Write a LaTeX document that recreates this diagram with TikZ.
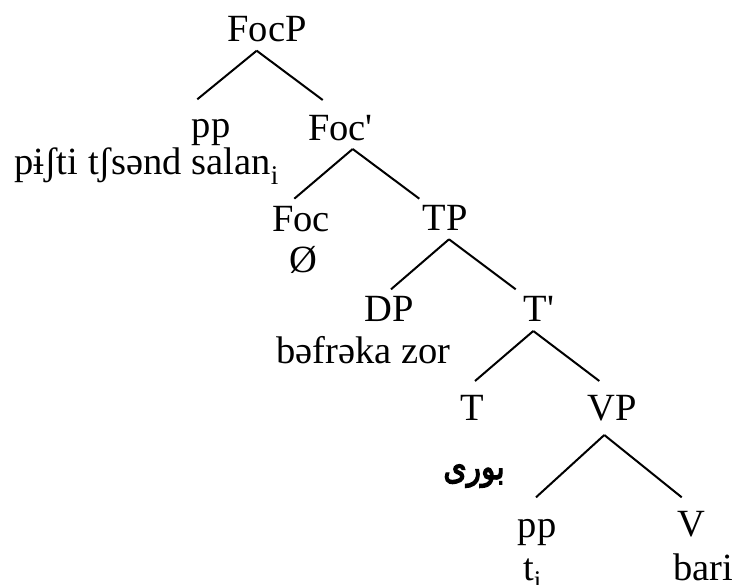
\documentclass[tikz,border=0pt]{standalone}
\usepackage{fontspec}
\setmainfont{Liberation Serif}
\newfontfamily\arabicfont[Script=Arabic,FakeBold=4]{DejaVu Sans}
\TeXXeTstate=1
\begin{document}
\begin{tikzpicture}[x=1pt,y=-1pt,
  lbl/.style={anchor=base,inner sep=0pt,font=\fontsize{38.5}{40}\selectfont},
  edge/.style={line width=2pt}]
\useasboundingbox (0,0) rectangle (735,585);
% labels
\node[lbl] (focp) at (267,42) {FocP};
\node[lbl] (pp1) at (211,138) {pp};
\node[lbl] (pisti) at (146.5,175) {pɨʃti tʃsənd salan\textsubscript{i}};
\node[lbl] (focbar) at (340.5,141) {Foc\textquotesingle};
\node[lbl] (foc) at (301,231) {Foc};
\node[lbl] (empty) at (303.5,272) {Ø};
\node[lbl] (tp) at (445,230) {TP};
\node[lbl] (dp) at (389,321) {DP};
\node[lbl] (befreka) at (363.5,363) {bəfrəka zor};
\node[lbl] (tbar) at (539,321) {T\textquotesingle};
\node[lbl] (t) at (472,420) {T};
\node[lbl] (vp) at (612.5,420) {VP};
\node[anchor=base,inner sep=0pt,xscale=0.85,font=\arabicfont\fontsize{35}{37}\selectfont] (bori) at (474,479) {\beginR بوری\endR};
\node[lbl] (pp2) at (537,537) {pp};
\node[lbl] (trace) at (532.5,580) {t\textsubscript{i}};
\node[lbl] (v) at (691,536) {V};
\node[lbl] (bari) at (703.5,580) {bari};
% branch points
\coordinate (focp-a) at (256.7,50.7);
\coordinate (pp1-t) at (197.3,99.3);
\coordinate (focbar-t) at (322.7,100);
\coordinate (focbar-a) at (352.7,149);
\coordinate (foc-t) at (294.3,198.7);
\coordinate (tp-t) at (419.3,198.7);
\coordinate (tp-a) at (449,239.3);
\coordinate (dp-t) at (391,289.3);
\coordinate (tbar-t) at (515.7,289.3);
\coordinate (tbar-a) at (533.3,331);
\coordinate (t-t) at (475,381);
\coordinate (vp-t) at (599.3,381);
\coordinate (vp-a) at (604.3,435);
\coordinate (pp2-t) at (536,497.3);
\coordinate (v-t) at (681.7,497.3);
% edges
\draw[edge] (focp-a) -- (pp1-t);
\draw[edge] (focp-a) -- (focbar-t);
\draw[edge] (focbar-a) -- (foc-t);
\draw[edge] (focbar-a) -- (tp-t);
\draw[edge] (tp-a) -- (dp-t);
\draw[edge] (tp-a) -- (tbar-t);
\draw[edge] (tbar-a) -- (t-t);
\draw[edge] (tbar-a) -- (vp-t);
\draw[edge] (vp-a) -- (pp2-t);
\draw[edge] (vp-a) -- (v-t);
\end{tikzpicture}
\end{document}
